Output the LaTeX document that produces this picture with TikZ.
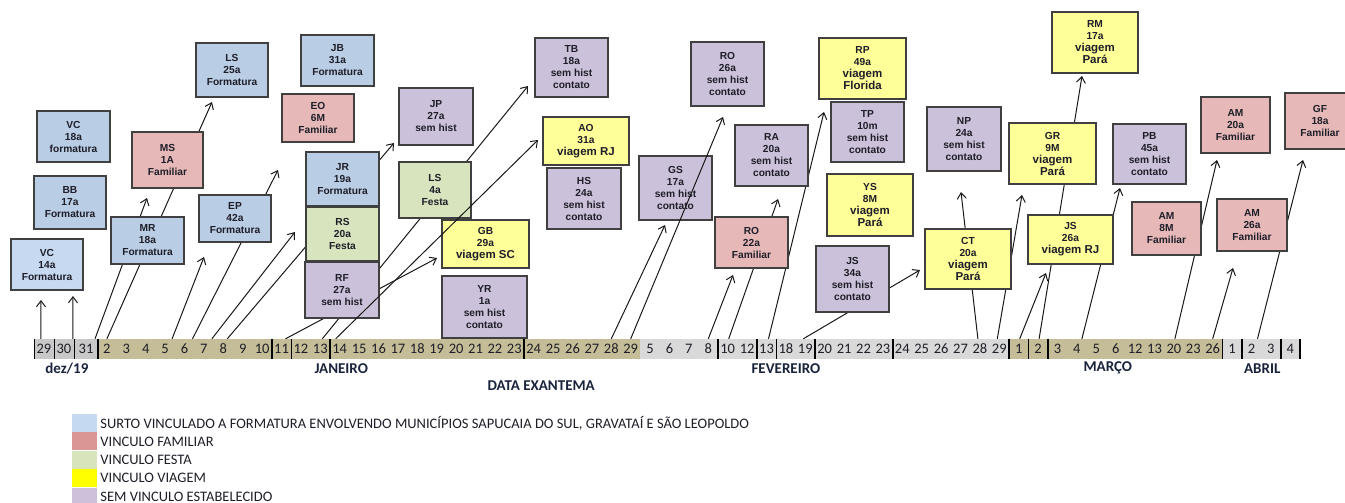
\documentclass[tikz,border=0pt]{standalone}
\usepackage{fontspec}
\setmainfont{Carlito}
\newfontfamily\boxfont{Liberation Sans}
\usetikzlibrary{arrows.meta,positioning}

\definecolor{formblue}{RGB}{185,205,229}
\definecolor{formlight}{RGB}{198,217,241}
\definecolor{fampink}{RGB}{230,185,184}
\definecolor{festagreen}{RGB}{215,228,189}
\definecolor{tripyellow}{RGB}{255,255,153}
\definecolor{nolinklilac}{RGB}{204,193,218}
\definecolor{legblue}{RGB}{197,217,241}
\definecolor{legpink}{RGB}{218,150,148}
\definecolor{leggreen}{RGB}{215,228,188}
\definecolor{legyellow}{RGB}{255,255,0}
\definecolor{leglilac}{RGB}{204,192,218}
\definecolor{daygray}{RGB}{200,200,200}
\definecolor{daylight}{RGB}{217,217,217}
\definecolor{daykhaki}{RGB}{196,189,151}
\definecolor{boxline}{RGB}{64,64,64}
\definecolor{inktext}{RGB}{30,30,40}
\definecolor{monthtext}{RGB}{25,35,60}

\newcommand\tripline[1]{{\fontsize{11.5}{13}\selectfont #1}}

\begin{document}
\begin{tikzpicture}[x=1pt,y=-1pt,>={Straight Barb[length=6pt,width=9pt]},
case/.style={draw=boxline,line width=1.3pt,inner sep=0pt,align=center,text=inktext,
  font=\boxfont\bfseries\fontsize{10.2}{12}\selectfont},
form/.style={case,fill=formblue},
fam/.style={case,fill=fampink},
festa/.style={case,fill=festagreen},
trip/.style={case,fill=tripyellow},
nolink/.style={case,fill=nolinklilac},
daycell/.style={anchor=west,inner sep=0pt,minimum height=20pt,minimum width=19.4pt,
  font=\fontsize{14.5}{14.5}\selectfont,text=inktext},
cellsep/.style={line width=0.6pt},
boldsep/.style={line width=1.6pt},
link/.style={->,line width=1pt,black!90},
month/.style={font=\bfseries\fontsize{15}{15}\selectfont,text=monthtext},
swatch/.style={minimum width=25pt,minimum height=18pt,inner sep=0pt},
legtext/.style={inner sep=0pt,font=\fontsize{14.5}{15}\selectfont,text=inktext}]

\useasboundingbox (0,0) rectangle (1345,503);

\node[daycell,fill=daygray,minimum width=19.5pt] (dez29) at (34,349) {29};
\node[daycell,fill=daygray,minimum width=19.5pt] (dez30) [right=0pt of dez29] {30};
\node[daycell,fill=daygray,minimum width=24pt] (dez31) [right=0pt of dez30] {31};
\draw[cellsep] (dez29.north west) -- (dez29.south west);
\foreach \c in {dez29,dez30,dez31}
  \draw[cellsep] (\c.north east) -- (\c.south east);
\foreach \d [count=\i from 0] in {2,...,29} {
  \node[daycell,fill=daykhaki] (jan\d) at (97+19.4*\i,349) {\d};
  \draw[cellsep] (jan\d.north east) -- (jan\d.south east);
}
\foreach \d [count=\i from 28] in {5,6,7,8,10,12,13,18,19,20,21,22,23,24,25,26,27,28,29} {
  \node[daycell,fill=daylight] (fev\d) at (97+19.4*\i,349) {\d};
  \draw[cellsep] (fev\d.north east) -- (fev\d.south east);
}
\foreach \d [count=\i from 47] in {1,2,3,4,5,6,12,13,20,23,26} {
  \node[daycell,fill=daykhaki] (mar\d) at (97+19.4*\i,349) {\d};
  \draw[cellsep] (mar\d.north east) -- (mar\d.south east);
}
\foreach \d [count=\i from 58] in {1,2,3,4} {
  \node[daycell,fill=daylight] (abr\d) at (97+19.4*\i,349) {\d};
  \draw[cellsep] (abr\d.north east) -- (abr\d.south east);
}
\foreach \c in {dez31,jan10,jan11,jan13,jan23,fev8,fev12,fev13,fev19,fev23,fev29,mar1,mar2,mar26,abr1,abr3,abr4}
  \draw[boldsep] (\c.north east) -- (\c.south east);

\node[month] (dezlbl) at ([xshift=3pt,yshift=-9pt]dez30.south) {dez/19};
\node[month] (janlbl) at ([xshift=1.5pt,yshift=-9pt]jan14.south) {JANEIRO};
\node[month] (fevlbl) at ([yshift=-9pt]fev18.south) {FEVEREIRO};
\node[month] (marlbl) at ([xshift=11.5pt,yshift=-9pt]mar5.south) {MARÇO};
\node[month] (abrlbl) at ([xshift=10.7pt,yshift=-9pt]abr2.south) {ABRIL};
\node[month] (axislbl) at ([xshift=7.5pt,yshift=-26pt]jan24.south) {DATA EXANTEMA};

\coordinate (toVC14a) at (41,300);
\coordinate (toVC14b) at (73,296);
\coordinate (toMS) at (147,198);
\coordinate (toLS25) at (212,102);
\coordinate (toEP) at (204,257);
\coordinate (toEO) at (278,170);
\coordinate (toRS) at (295,232);
\coordinate (toJP) at (394,143);
\coordinate (toGB) at (437,258);
\coordinate (toTB) at (528,86);
\coordinate (toAO) at (538,140);
\coordinate (toGS) at (665,225);
\coordinate (toRO26) at (723,117);
\coordinate (toRO22) at (733,275);
\coordinate (toRA) at (778,199);
\coordinate (toRP) at (824,112);
\coordinate (toCT) at (920,270);
\coordinate (toNP) at (961,192);
\coordinate (toGR) at (1022,195);
\coordinate (toJS26) at (1046,273);
\coordinate (toRM) at (1082,76);
\coordinate (toPB) at (1120,188);
\coordinate (toAM20) at (1217,160);
\coordinate (toAM26) at (1233,268);
\coordinate (toGF) at (1303,160);

\path[link]
([xshift=-3pt]dez29.north) edge (toVC14a)
([xshift=9pt]dez30.north) edge (toVC14b)
([xshift=9pt]dez31.north) edge (toMS)
(jan2.north) edge (toLS25)
([xshift=7pt]jan5.north) edge (toEP)
([xshift=8pt]jan6.north) edge (toEO)
([xshift=8pt]jan7.north) edge (toRS)
([xshift=4pt]jan8.north) edge (toJP)
([xshift=4pt]jan11.north) edge (toGB)
([xshift=2pt]jan13.north) edge (toTB)
(jan28.north) edge (toGS)
(fev8.north) edge (toRO22)
([xshift=1pt]fev10.north) edge (toRA)
([xshift=2pt]fev13.north) edge (toRP)
([xshift=-2pt]fev19.north) edge (toCT)
([xshift=-2pt]fev28.north) edge (toNP)
([xshift=-2pt]fev29.north) edge (toGR)
([xshift=1pt]mar1.north) edge (toJS26)
([xshift=1pt]mar2.north) edge (toRM)
([xshift=5pt]mar4.north) edge (toPB)
([xshift=1pt]mar20.north) edge (toAM20)
(mar26.north) edge (toAM26)
([xshift=6pt]abr2.north) edge (toGF);

\node[form,fill=formlight,minimum width=72pt,minimum height=51pt] (VC14) at (47,264.5) {VC\\14a\\Formatura};
\node[form,minimum width=73pt,minimum height=51pt] (VC18) at (73.5,136.5) {VC\\18a\\formatura};
\node[form,minimum width=72pt,minimum height=53pt] (BB) at (70,202.5) {BB\\17a\\Formatura};
\node[form,minimum width=73pt,minimum height=47pt] (MR) at (147.5,240.5) {MR\\18a\\Formatura};
\node[form,minimum width=72pt,minimum height=54pt] (LS25) at (232,70) {LS\\25a\\Formatura};
\node[form,minimum width=72pt,minimum height=47pt] (EP) at (235,218.5) {EP\\42a\\Formatura};
\node[form,minimum width=73pt,minimum height=51pt] (JB) at (337.5,60.5) {JB\\31a\\Formatura};
\node[form,minimum width=73pt,minimum height=54pt] (JR) at (342.5,179) {JR\\19a\\Formatura};
\node[fam,minimum width=71pt,minimum height=56pt] (MS) at (167.5,160) {MS\\1A\\Familiar};
\node[fam,minimum width=72pt,minimum height=48pt] (EO) at (318,118) {EO\\6M\\Familiar};
\node[fam,minimum width=73pt,minimum height=51pt] (RO22) at (751.5,242.5) {RO\\22a\\Familiar};
\node[fam,minimum width=69pt,minimum height=53pt] (AM8) at (1166.5,228.5) {AM\\8M\\Familiar};
\node[fam,minimum width=69pt,minimum height=56pt] (AM20) at (1235.5,125) {AM\\20a\\Familiar};
\node[fam,minimum width=70pt,minimum height=52pt] (AM26) at (1252,225) {AM\\26a\\Familiar};
\node[fam,minimum width=70pt,minimum height=56pt] (GF) at (1320,121) {GF\\18a\\Familiar};
\node[festa,minimum width=73pt,minimum height=54pt] (RS) at (342.5,234) {RS\\20a\\Festa};
\node[festa,minimum width=72pt,minimum height=56pt] (LS4) at (435,190) {LS\\4a\\Festa};
\node[trip,minimum width=86pt,minimum height=48pt] (AO) at (586,141) {AO\\31a\\\tripline{viagem RJ}};
\node[trip,minimum width=87pt,minimum height=48pt] (GB) at (485.5,244) {GB\\29a\\\tripline{viagem SC}};
\node[trip,minimum width=87pt,minimum height=61pt] (RP) at (862.5,68.5) {RP\\49a\\\tripline{viagem}\\\tripline{Florida}};
\node[trip,minimum width=86pt,minimum height=62pt] (YS) at (870,205) {YS\\8M\\\tripline{viagem}\\\tripline{Pará}};
\node[trip,minimum width=86pt,minimum height=61pt] (RM) at (1095,42.5) {RM\\17a\\\tripline{viagem}\\\tripline{Pará}};
\node[trip,minimum width=87pt,minimum height=61pt] (GR) at (1052.5,153.5) {GR\\9M\\\tripline{viagem}\\\tripline{Pará}};
\node[trip,minimum width=86pt,minimum height=60pt] (CT) at (968,259) {CT\\20a\\\tripline{viagem}\\\tripline{Pará}};
\node[trip,minimum width=85pt,minimum height=49pt] (JS26) at (1070.5,239.5) {JS\\26a\\\tripline{viagem RJ}};
\node[nolink,minimum width=74pt,minimum height=57pt] (JP) at (436,116.5) {JP\\27a\\sem hist};
\node[nolink,minimum width=74pt,minimum height=56pt] (RF) at (342,290) {RF\\27a\\sem hist};
\node[nolink,minimum width=85pt,minimum height=62pt] (YR) at (484.5,307) {YR\\1a\\sem hist\\contato};
\node[nolink,minimum width=73pt,minimum height=59pt] (TB) at (571.5,67.5) {TB\\18a\\sem hist\\contato};
\node[nolink,minimum width=74pt,minimum height=61pt] (HS) at (584,198.5) {HS\\24a\\sem hist\\contato};
\node[nolink,minimum width=73pt,minimum height=64pt] (GS) at (675.5,188) {GS\\17a\\sem hist\\contato};
\node[nolink,minimum width=73pt,minimum height=64pt] (RO26) at (727.5,74) {RO\\26a\\sem hist\\contato};
\node[nolink,minimum width=73pt,minimum height=61pt] (RA) at (771.5,155.5) {RA\\20a\\sem hist\\contato};
\node[nolink,minimum width=73pt,minimum height=60pt] (TP) at (867.5,132) {TP\\10m\\sem hist\\contato};
\node[nolink,minimum width=73pt,minimum height=66pt] (JS34) at (852.5,279) {JS\\34a\\sem hist\\contato};
\node[nolink,minimum width=74pt,minimum height=64pt] (NP) at (964,139) {NP\\24a\\sem hist\\contato};
\node[nolink,minimum width=73pt,minimum height=60pt] (PB) at (1149.5,154) {PB\\45a\\sem hist\\contato};

\path[link]
([xshift=-4pt]jan14.north) edge (toAO)
(jan29.north) edge (toRO26);

\node[swatch,fill=legblue] (lgForm) at (84.5,423) {};
\node[swatch,fill=legpink] (lgFam) [below=0pt of lgForm] {};
\node[swatch,fill=leggreen] (lgFesta) [below=0pt of lgFam] {};
\node[swatch,fill=legyellow] (lgTrip) [below=0pt of lgFesta] {};
\node[swatch,fill=leglilac] (lgNone) [below=0pt of lgTrip] {};
\node[legtext] (lgFormTxt) [right=3pt of lgForm] {SURTO VINCULADO A FORMATURA ENVOLVENDO MUNICÍPIOS SAPUCAIA DO SUL, GRAVATAÍ E SÃO LEOPOLDO};
\node[legtext] (lgFamTxt) [right=3pt of lgFam] {VINCULO FAMILIAR};
\node[legtext] (lgFestaTxt) [right=3pt of lgFesta] {VINCULO FESTA};
\node[legtext] (lgTripTxt) [right=3pt of lgTrip] {VINCULO VIAGEM};
\node[legtext] (lgNoneTxt) [right=3pt of lgNone] {SEM VINCULO ESTABELECIDO};
\end{tikzpicture}
\end{document}
